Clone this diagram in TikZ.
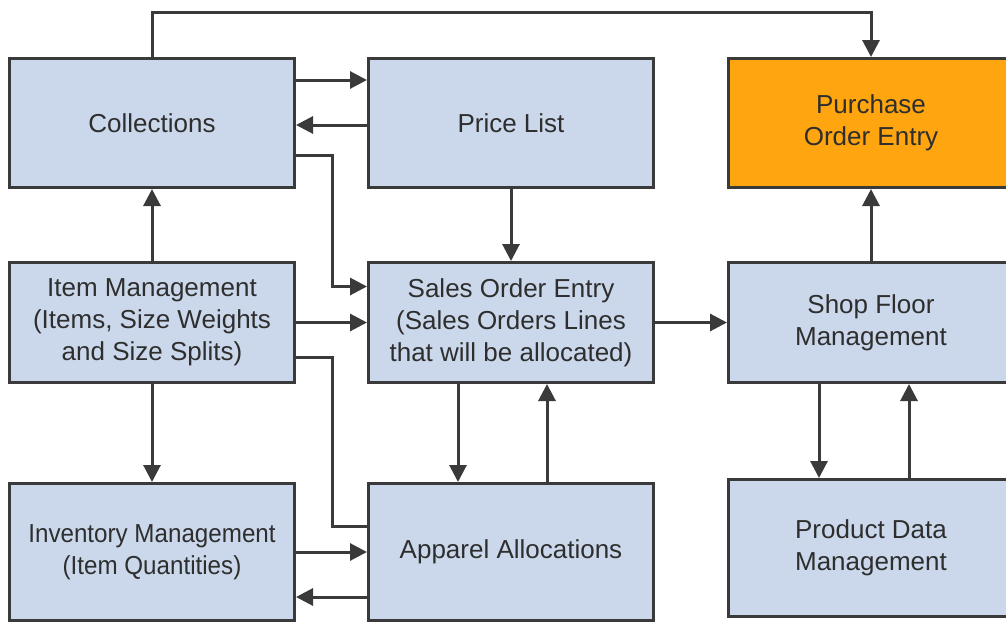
\documentclass[tikz,border=0pt]{standalone}
\usepackage{fontspec}
\setmainfont{Liberation Sans}
\usetikzlibrary{arrows.meta,positioning}
\definecolor{boxfill}{HTML}{CBD8EB}
\definecolor{boxline}{HTML}{3A3A3A}
\definecolor{hot}{HTML}{FFA510}
\definecolor{txt}{HTML}{2E2E2E}

\begin{document}
\begin{tikzpicture}[x=1pt,y=1pt,font=\fontsize{26}{32}\selectfont,
  node distance=72pt and 71pt,
  block/.style={draw=boxline,line width=3pt,fill=boxfill,text=txt,
    align=center,minimum width=285pt,inner sep=0pt},
  active/.style={block,fill=hot},
  arr/.style={-{Triangle[length=17pt,width=17pt]},line width=3pt,draw=boxline},
  link/.style={line width=3pt,draw=boxline}]
  \useasboundingbox (0,0) rectangle (1006,-621);
  \node[block,minimum height=129pt] (coll) at (152,-123) {Collections};
  \node[block,minimum height=129pt,right=of coll] (price) {Price List};
  \node[active,minimum height=129pt,right=72pt of price] (purch) {Purchase\\Order Entry};
  \node[block,minimum height=120pt,below=of coll] (item) {Item Management\\(Items, Size Weights\\and Size Splits)};
  \node[block,minimum height=120pt,right=of item] (sales) {Sales Order Entry\\(Sales Orders Lines\\that will be allocated)};
  \node[block,minimum height=120pt,right=72pt of sales] (shop) {Shop Floor\\Management};
  \node[block,minimum height=137pt,below=98pt of item] (inv) {\scalebox{.93}[1]{Inventory Management}\\\scalebox{.93}[1]{(Item Quantities)}};
  \node[block,minimum height=137pt,right=of inv] (alloc) {Apparel Allocations};
  \node[block,minimum height=137pt,below=94pt of shop] (pdm) {Product Data\\Management};
  \draw[arr] (coll.north) -- ++(0,45) -| (purch.north);
  \draw[arr] ([yshift=43pt]coll.east) -- ([yshift=43pt]price.west);
  \draw[arr] ([yshift=-2pt]price.west) -- ([yshift=-2pt]coll.east);
  \draw[arr] ([yshift=-32pt]coll.east) -- ++(36,0) |- ([yshift=36pt]sales.west);
  \draw[arr] (price) -- (sales);
  \draw[arr] (item) -- (coll);
  \draw[arr] (item) -- (sales);
  \draw[link] ([yshift=-35pt]item.east) -- ++(36,0) |- ([yshift=26pt]alloc.west);
  \draw[arr] (item) -- (inv);
  \draw[arr] (inv) -- (alloc);
  \draw[arr] ([yshift=-45pt]alloc.west) -- ([yshift=-45pt]inv.east);
  \draw[arr] ([xshift=-53pt]sales.south) -- ([xshift=-53pt]alloc.north);
  \draw[arr] ([xshift=36pt]alloc.north) -- ([xshift=36pt]sales.south);
  \draw[arr] (sales) -- (shop);
  \draw[arr] (shop) -- (purch);
  \draw[arr] ([xshift=-52pt]shop.south) -- ([xshift=-52pt]pdm.north);
  \draw[arr] ([xshift=38pt]pdm.north) -- ([xshift=38pt]shop.south);
\end{tikzpicture}
\end{document}
